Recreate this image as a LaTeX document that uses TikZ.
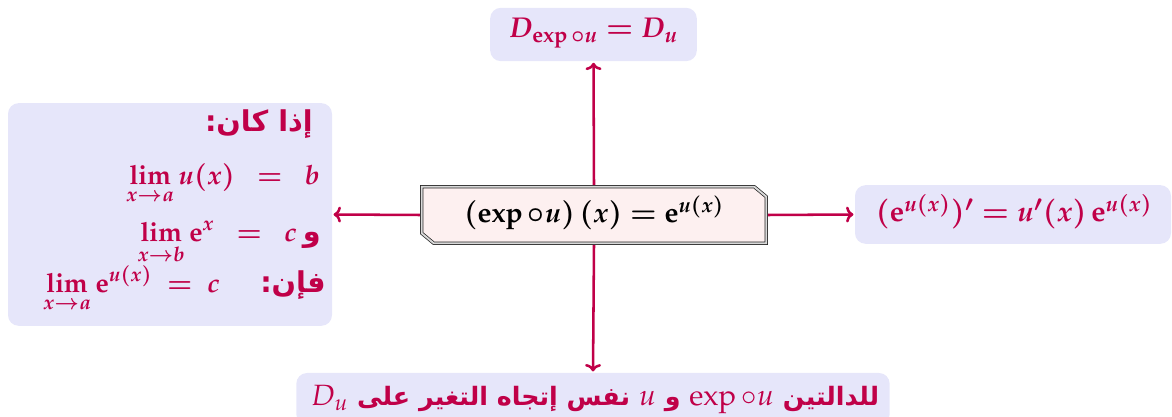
\documentclass[tikz,border=0pt]{standalone}
\usepackage{mathpazo}
\usepackage[no-math]{fontspec}
\usetikzlibrary{calc,arrows.meta}
\TeXXeTstate=1
\newfontfamily\arabicfont[Script=Arabic]{DejaVu Sans}
\definecolor{crim}{RGB}{192,0,72}
\definecolor{lav}{RGB}{230,230,250}
\definecolor{blush}{RGB}{253,240,240}
\tikzset{
  box/.style={fill=lav, rounded corners=8pt, inner sep=0pt},
  cbox/.style={fill=blush, draw=black!85, double=gray!30, double distance=1.4pt, line width=0.55pt},
  conn/.style={crim, line width=1.9pt, -{To[length=5.5pt,width=12pt]}, shorten >=1pt},
  mtxt/.style={text=crim, font=\fontsize{20}{24}\selectfont\boldmath, inner sep=0pt},
  artxt/.style={text=crim, font=\fontsize{21.5}{24}\selectfont\arabicfont\bfseries, inner sep=0pt},
}
\begin{document}
\begin{tikzpicture}[x=0.75pt,y=0.75pt]
\clip (0,0) rectangle (1172,417);
% boxes
\node[box, minimum width=155pt, minimum height=40pt] (t) at (593.5,382.5) {};
\node[box, minimum width=243pt, minimum height=167pt] (l) at (170,202.5) {};
\node[box, minimum width=237pt, minimum height=44pt] (r) at (1013,202.5) {};
\node[box, minimum width=445pt, minimum height=39pt] (b) at (593,18) {};
\node[inner sep=0pt, minimum width=261pt, minimum height=45pt] (c) at (594,202) {};
% connectors
\draw[conn] (c.center) -- (c.north) -- (t.south);
\draw[conn] (c.center) -- (c.south) -- (b.north);
\draw[conn] (c.center) -- (c.west) -- (l.east);
\draw[conn] (c.center) -- (c.east) -- (r.west);
% chamfered center box
\draw[cbox] ($(c.north west)+(2,-2)$) -- ($(c.north east)+(-14,-2)$) -- ($(c.north east)+(-2,-12)$)
  -- ($(c.south east)+(-2,2)$) -- ($(c.south west)+(14,2)$) -- ($(c.south west)+(2,12)$) -- cycle;
\node[mtxt, text=black, font=\fontsize{21}{24}\selectfont\boldmath] (ct) at (594,204) {$(\exp\circ u)\,(x)=\mathrm{e}^{u(x)}$};
% top
\node[mtxt, font=\fontsize{21.5}{24}\selectfont\boldmath] (tt) at (593.5,384) {$D_{\exp\circ u}=D_u$};
% right
\node[mtxt, font=\fontsize{21.5}{24}\selectfont\boldmath] (rt) at (1014,205) {$(\mathrm{e}^{u(x)})'=u'(x)\,\mathrm{e}^{u(x)}$};
% left contents
\node[artxt, anchor=base east] (l1) at (313,285) {\beginR إذا كان:\endR};
\node[mtxt, anchor=base east] (l2) at (320,232) {$\displaystyle\lim_{x\to a}u(x)\;\;=\;\;b$};
\node[mtxt, anchor=base east] (l3) at (297,175) {$\displaystyle\lim_{x\to b}\mathrm{e}^{x}\;\;=\;\;c$};
\node[artxt, anchor=base east] (l3a) at (321,175) {\beginR و\endR};
\node[mtxt, anchor=base west] (l4) at (43,124) {$\displaystyle\lim_{x\to a}\mathrm{e}^{u(x)}\;=\;c$};
\node[artxt, anchor=base east] (l4a) at (326,124) {\beginR فإن:\endR};
% bottom
\node[artxt, anchor=base, font=\fontsize{19}{24}\selectfont\arabicfont\bfseries] (bt) at (595,11) {\beginR للدالتين \beginL{\fontsize{22}{24}\selectfont$\exp\circ u$}\endL{} و \beginL{\fontsize{22}{24}\selectfont$u$}\endL{} نفس إتجاه التغير على \beginL{\fontsize{22}{24}\selectfont$D_u$}\endL\endR};
\end{tikzpicture}
\end{document}
